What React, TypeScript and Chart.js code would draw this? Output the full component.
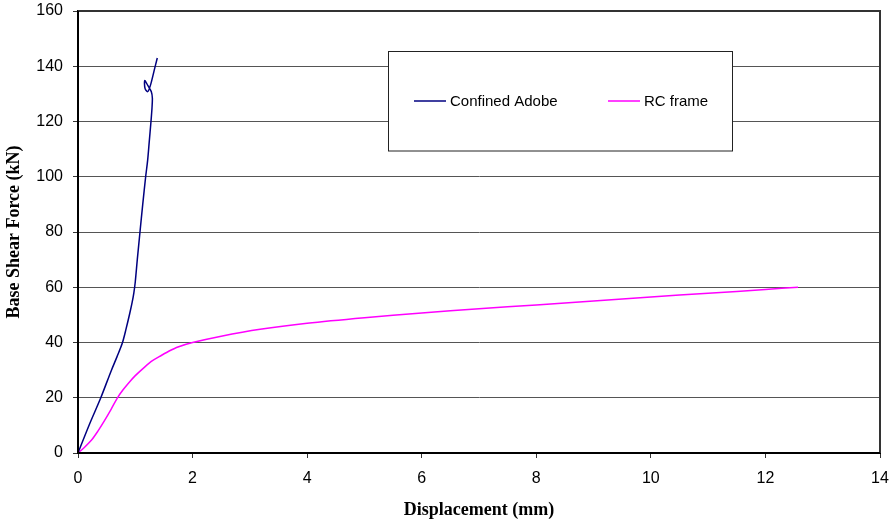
import React, { useEffect, useRef } from "react";
import { Chart, registerables } from "chart.js";

Chart.register(...registerables);

const adobeX = [0, 0.204, 0.396, 0.582, 0.68, 0.774, 0.84, 0.902, 0.945, 0.975, 1.0, 1.035, 1.082, 1.13, 1.181, 1.216, 1.245, 1.274, 1.292, 1.298, 1.28, 1.22, 1.165, 1.17, 1.215, 1.26, 1.33, 1.384];
const adobeY = [0, 10.6, 19.9, 29.9, 34.8, 39.8, 45, 50.4, 54.5, 58, 62, 70, 80, 90, 100, 106, 113, 120, 125, 128.5, 130.8, 133, 134.8, 132, 130.8, 132.8, 138.5, 143];

const rcX = [0, 0.1, 0.233, 0.35, 0.465, 0.58, 0.686, 0.78, 0.873, 1.0, 1.163, 1.3, 1.454, 1.6, 1.745, 2.0, 2.5, 3.18, 4, 5, 6, 7, 8, 9, 10, 11, 12, 12.57];
const rcY = [0, 1.8, 4.6, 8.0, 11.8, 15.9, 19.9, 22.7, 25.1, 28.0, 31.1, 33.4, 35.3, 37.0, 38.4, 40, 42.3, 44.8, 47, 49, 50.7, 52.2, 53.6, 55, 56.5, 57.8, 59.2, 60];

const seriesNames = ["Confined Adobe", "RC frame"];
const seriesColors = ["#000080", "#FF00FF"];
const xTitle = "Displacement (mm)";
const yTitle = "Base Shear Force (kN)";

const toPoints = (xs: number[], ys: number[]) => xs.map((x, i) => ({ x, y: ys[i] }));

const framePlugin = {
  id: "frame",
  afterDraw(chart: any) {
    const { ctx, chartArea } = chart;
    const { left, right, top, bottom } = chartArea;
    ctx.save();
    ctx.strokeStyle = "#333";
    ctx.lineWidth = 2;
    ctx.beginPath();
    ctx.moveTo(left, top);
    ctx.lineTo(right, top);
    ctx.lineTo(right, bottom);
    ctx.stroke();
    ctx.strokeStyle = "#000";
    ctx.beginPath();
    ctx.moveTo(left, top);
    ctx.lineTo(left, bottom);
    ctx.lineTo(right, bottom);
    ctx.stroke();

    // legend box
    const bx = 388.5, by = 51.5, bw = 344, bh = 99.5;
    ctx.fillStyle = "#fff";
    ctx.fillRect(bx, by, bw, bh);
    ctx.strokeStyle = "#222";
    ctx.lineWidth = 1;
    ctx.strokeRect(bx, by, bw, bh);
    const items = [
      { x1: 414, x2: 446, tx: 450 },
      { x1: 608, x2: 640, tx: 644 },
    ];
    ctx.font = "15px 'Liberation Sans', Arial, sans-serif";
    ctx.textBaseline = "middle";
    ctx.textAlign = "left";
    items.forEach((it, i) => {
      ctx.strokeStyle = seriesColors[i];
      ctx.lineWidth = 1.5;
      ctx.beginPath();
      ctx.moveTo(it.x1, 101);
      ctx.lineTo(it.x2, 101);
      ctx.stroke();
      ctx.fillStyle = "#000";
      ctx.fillText(seriesNames[i], it.tx, 102);
    });
    ctx.restore();
  },
};

export default function App() {
  const ref = useRef<HTMLCanvasElement | null>(null);
  useEffect(() => {
    document.body.style.margin = "0";
    const canvas = ref.current;
    if (!canvas) return;
    const tickFont = { family: "'Liberation Sans', Arial, sans-serif", size: 16 };
    const titleFont = { family: "'Liberation Serif', 'Times New Roman', serif", size: 18, weight: "bold" as const };
    const chart = new Chart(canvas, {
      type: "scatter",
      data: {
        datasets: [
          {
            label: seriesNames[0],
            data: toPoints(adobeX, adobeY),
            showLine: true,
            borderColor: seriesColors[0],
            backgroundColor: seriesColors[0],
            borderWidth: 1.5,
            pointRadius: 0,
            tension: 0.3,
          },
          {
            label: seriesNames[1],
            data: toPoints(rcX, rcY),
            showLine: true,
            borderColor: seriesColors[1],
            backgroundColor: seriesColors[1],
            borderWidth: 1.5,
            pointRadius: 0,
            tension: 0.3,
          },
        ],
      },
      options: {
        animation: false,
        responsive: false,
        maintainAspectRatio: false,
        layout: { padding: { top: 11, right: 11, left: 0, bottom: 0 } },
        plugins: {
          legend: { display: false },
          tooltip: { enabled: false },
        },
        scales: {
          x: {
            type: "linear",
            min: 0,
            max: 14,
            ticks: { stepSize: 2, color: "#000", font: tickFont, padding: 11, maxRotation: 0 },
            grid: { drawOnChartArea: false, drawTicks: true, tickLength: 5, tickColor: "#333" },
            border: { display: true, color: "#000", width: 2 },
            title: { display: true, text: xTitle, color: "#000", font: titleFont, padding: { top: 0, bottom: 2 } },
            afterFit: (scale: any) => {
              scale.height = 70;
              scale.paddingLeft = 0;
              scale.paddingRight = 0;
            },
          },
          y: {
            type: "linear",
            min: 0,
            max: 160,
            ticks: { stepSize: 20, color: "#000", font: tickFont, padding: 10 },
            grid: { color: "#555", lineWidth: 1, drawTicks: true, tickLength: 5, tickColor: "#333" },
            border: { display: true, color: "#000", width: 2 },
            title: { display: true, text: yTitle, color: "#000", font: titleFont, padding: { top: 4, bottom: 0 } },
            afterFit: (scale: any) => {
              scale.width = 78;
              scale.paddingTop = 0;
              scale.paddingBottom = 0;
            },
          },
        },
      },
      plugins: [framePlugin],
    });
    return () => chart.destroy();
  }, []);
  return (
    <div style={{ width: 891, height: 523 }}>
      <canvas ref={ref} width={891} height={523} style={{ display: "block" }} />
    </div>
  );
}
